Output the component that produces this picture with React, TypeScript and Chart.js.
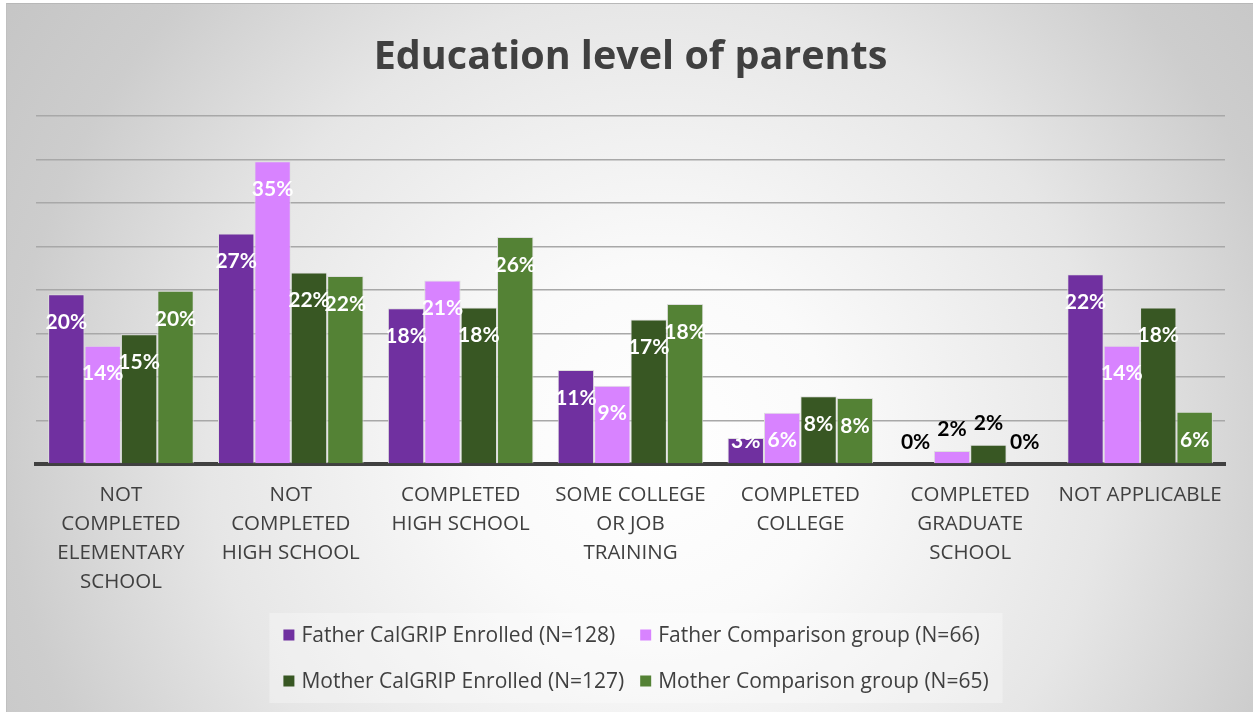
import { useEffect, useRef } from 'react';
import { Chart, registerables } from 'chart.js';

Chart.register(...registerables);

const categories: string[][] = [
  ['NOT', 'COMPLETED', 'ELEMENTARY', 'SCHOOL'],
  ['NOT', 'COMPLETED', 'HIGH SCHOOL'],
  ['COMPLETED', 'HIGH SCHOOL'],
  ['SOME COLLEGE', 'OR JOB', 'TRAINING'],
  ['COMPLETED', 'COLLEGE'],
  ['COMPLETED', 'GRADUATE', 'SCHOOL'],
  ['NOT APPLICABLE'],
];

const seriesNames = [
  'Father CalGRIP Enrolled (N=128)',
  'Father Comparison group (N=66)',
  'Mother CalGRIP Enrolled (N=127)',
  'Mother Comparison group (N=65)',
];

const fatherEnrolled = [19.5, 26.5, 17.9, 10.8, 3.0, 0, 21.8];
const fatherComparison = [13.6, 34.8, 21.1, 9.0, 5.9, 1.5, 13.6];
const motherEnrolled = [14.9, 22.0, 18.0, 16.6, 7.8, 2.2, 18.0];
const motherComparison = [19.9, 21.6, 26.1, 18.4, 7.6, 0, 6.0];

const seriesColors = ['#7030A0', '#D883FF', '#385723', '#548235'];

const yMin = 0;
const yMax = 40;
const yStep = 5;

const titleText = 'Education level of parents';
const TEXT_FONT = '"Open Sans"';
const LABEL_FONT = 'Lato';

export default function App() {
  const canvasRef = useRef<HTMLCanvasElement>(null);

  useEffect(() => {
    let chart: Chart | null = null;
    let cancelled = false;

    const valueLabels = {
      id: 'valueLabels',
      afterDatasetsDraw(c: any) {
        const ctx = c.ctx;
        ctx.save();
        ctx.font = `bold 21px ${LABEL_FONT}`;
        ctx.textAlign = 'center';
        ctx.textBaseline = 'middle';
        c.data.datasets.forEach((ds: any, di: number) => {
          const meta = c.getDatasetMeta(di);
          meta.data.forEach((el: any, i: number) => {
            const v = ds.data[i] as number;
            const txt = Math.round(v) + '%';
            const { x, y, base } = el.getProps(['x', 'y', 'base'], true);
            if (v < 2.5) {
              ctx.fillStyle = '#000000';
              ctx.fillText(txt, x, y - 22);
            } else {
              ctx.fillStyle = '#ffffff';
              ctx.fillText(txt, x, Math.min(y + 28, base - 22));
            }
          });
        });
        ctx.restore();
      },
    };

    // Two-by-two legend laid out like the original (rows of two, aligned columns)
    const gridLegend = {
      id: 'gridLegend',
      beforeDatasetsDraw(c: any) {
        const ctx = c.ctx;
        const fontSize = 21;
        const box = 11;
        const gapBoxText = 7;
        const colGap = 16;
        const rowY = [635, 681];
        const centerX = 636;
        ctx.save();
        ctx.font = `${fontSize}px ${TEXT_FONT}`;
        const names = c.data.datasets.map((d: any) => d.label as string);
        const itemW = names.map((n: string) => box + gapBoxText + ctx.measureText(n).width);
        const col1 = Math.max(itemW[0], itemW[2]);
        const col2 = Math.max(itemW[1], itemW[3]);
        const total = col1 + colGap + col2;
        const x0 = centerX - total / 2;
        const xs = [x0, x0 + col1 + colGap];
        // faint background panel behind legend
        ctx.fillStyle = 'rgba(255,255,255,0.3)';
        ctx.fillRect(x0 - 14, rowY[0] - 22, total + 28, rowY[1] - rowY[0] + 44);
        ctx.textAlign = 'left';
        ctx.textBaseline = 'middle';
        names.forEach((n: string, i: number) => {
          const r = Math.floor(i / 2);
          const col = i % 2;
          const x = xs[col];
          const y = rowY[r];
          ctx.fillStyle = c.data.datasets[i].backgroundColor;
          ctx.fillRect(x, y - box / 2, box, box);
          ctx.fillStyle = '#404040';
          ctx.fillText(n, x + box + gapBoxText, y + 1);
        });
        ctx.restore();
      },
    };

    const build = () => {
      if (cancelled || !canvasRef.current) return;
      const values = [fatherEnrolled, fatherComparison, motherEnrolled, motherComparison];
      chart = new Chart(canvasRef.current, {
        type: 'bar',
        data: {
          labels: categories,
          datasets: seriesNames.map((name, i) => ({
            label: name,
            data: values[i],
            backgroundColor: seriesColors[i],
            borderColor: '#dedede',
            borderWidth: 1,
            categoryPercentage: 0.857,
            barPercentage: 1,
          })),
        },
        options: {
          responsive: false,
          animation: false,
          devicePixelRatio: 1,
          layout: { padding: { left: 36, right: 28, top: 0, bottom: 112 } },
          plugins: {
            title: {
              display: true,
              text: titleText,
              color: '#404040',
              font: { family: TEXT_FONT, size: 39.5, weight: 'bold', lineHeight: 1.2 },
              padding: { top: 34, bottom: 34.6 },
            },
            legend: { display: false },
            tooltip: { enabled: false },
          },
          scales: {
            x: {
              z: 1,
              grid: { display: false, drawTicks: false },
              border: { display: true, color: '#404040', width: 4 },
              ticks: {
                color: '#404040',
                font: { family: TEXT_FONT, size: 20.5, lineHeight: 1.42 },
                padding: 16.5,
                maxRotation: 0,
                autoSkip: false,
              },
              afterFit: (s: any) => {
                s.height = 136;
              },
            },
            y: {
              min: yMin,
              max: yMax,
              ticks: { display: false, stepSize: yStep },
              grid: {
                drawTicks: false,
                lineWidth: 1.5,
                color: (ctx: any) => (ctx.tick && ctx.tick.value === 0 ? 'rgba(0,0,0,0)' : '#a8a8a8'),
              },
              border: { display: false },
              afterFit: (s: any) => {
                s.width = 0;
              },
            },
          },
        },
        plugins: [gridLegend, valueLabels],
      } as any);
    };

    const fonts = (document as any).fonts;
    if (fonts && fonts.load) {
      Promise.all([
        fonts.load(`bold 40px ${TEXT_FONT}`),
        fonts.load(`20px ${TEXT_FONT}`),
        fonts.load(`bold 21px ${LABEL_FONT}`),
      ]).then(build, build);
    } else {
      build();
    }

    return () => {
      cancelled = true;
      if (chart) chart.destroy();
    };
  }, []);

  return (
    <div
      style={{
        position: 'fixed',
        left: 0,
        top: 0,
        width: 1253,
        height: 712,
        overflow: 'hidden',
        background: '#ffffff',
      }}
    >
      <div
        style={{
          position: 'absolute',
          left: 6,
          top: 3,
          right: 0,
          bottom: 0,
          borderTop: '1px solid #b8b8b8',
          borderLeft: '1px solid #c0c0c0',
          background:
            'radial-gradient(circle at 650px 440px, #ffffff 0px, #fafafa 180px, #e6e6e6 450px, #cdcdcd 650px, #c2c2c2 850px)',
        }}
      />
      <canvas
        ref={canvasRef}
        width={1253}
        height={712}
        style={{ position: 'absolute', left: 0, top: 0, display: 'block' }}
      />
    </div>
  );
}
